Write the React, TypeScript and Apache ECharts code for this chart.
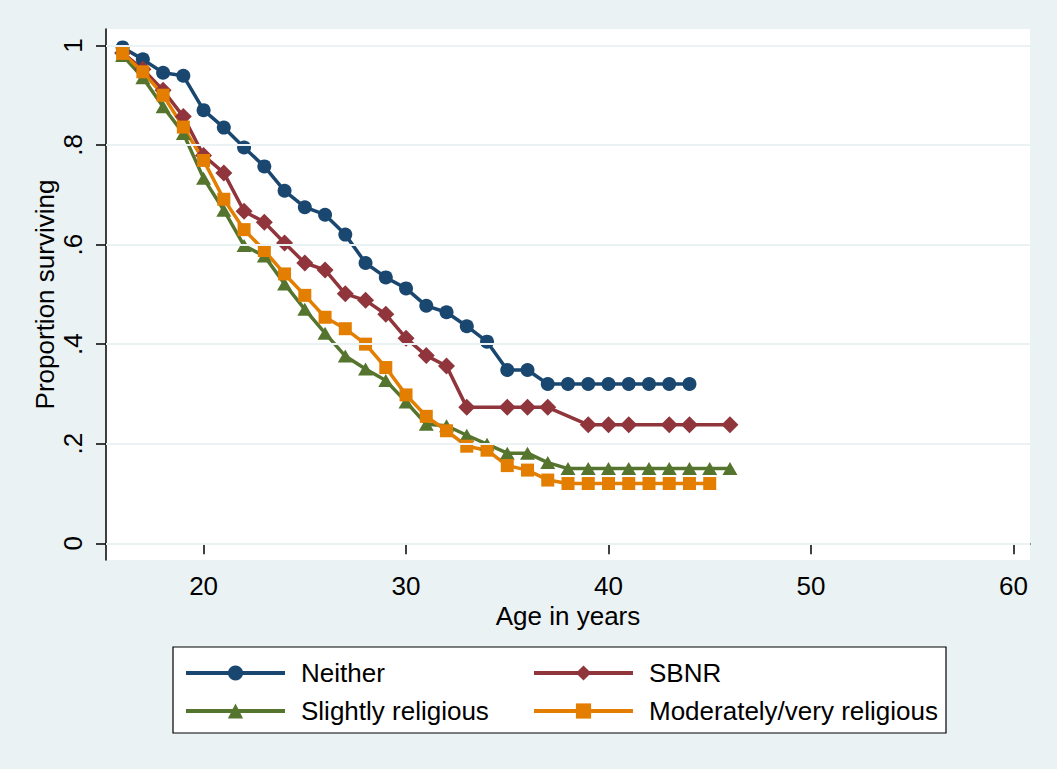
import React, { useEffect, useRef } from "react";
import * as echarts from "echarts";

const neitherAges = [16,17,18,19,20,21,22,23,24,25,26,27,28,29,30,31,32,33,34,35,36,37,38,39,40,41,42,43,44];
const neitherVals = [0.996,0.972,0.945,0.939,0.870,0.835,0.795,0.757,0.708,0.675,0.660,0.620,0.563,0.534,0.512,0.477,0.464,0.436,0.405,0.348,0.348,0.320,0.320,0.320,0.320,0.320,0.320,0.320,0.320];

const sbnrAges = [16,17,18,19,20,21,22,23,24,25,26,27,28,29,30,31,32,33,35,36,37,39,40,41,43,44,46];
const sbnrVals = [0.985,0.952,0.910,0.857,0.779,0.744,0.667,0.645,0.603,0.563,0.549,0.501,0.488,0.460,0.412,0.377,0.356,0.273,0.273,0.273,0.273,0.238,0.238,0.238,0.238,0.238,0.238];

const slightAges = [16,17,18,19,20,21,22,23,24,25,26,27,28,29,30,31,32,33,34,35,36,37,38,39,40,41,42,43,44,45,46];
const slightVals = [0.980,0.935,0.877,0.823,0.733,0.669,0.598,0.577,0.521,0.470,0.422,0.376,0.350,0.327,0.284,0.239,0.236,0.217,0.199,0.181,0.181,0.162,0.150,0.150,0.150,0.150,0.150,0.150,0.150,0.150,0.150];

const modAges = [16,17,18,19,20,21,22,23,24,25,26,27,28,29,30,31,32,33,34,35,36,37,38,39,40,41,42,43,44,45];
const modVals = [0.984,0.947,0.900,0.836,0.769,0.691,0.630,0.588,0.541,0.498,0.454,0.431,0.400,0.353,0.298,0.255,0.226,0.195,0.187,0.156,0.147,0.127,0.120,0.120,0.120,0.120,0.120,0.120,0.120,0.120];

const xTicks = [20, 30, 40, 50, 60];
const yTicks = [0, 0.2, 0.4, 0.6, 0.8, 1];
const yTickLabels = ["0", ".2", ".4", ".6", ".8", "1"];

const seriesNames = ["Neither", "SBNR", "Slightly religious", "Moderately/very religious"];

const FONT = "Liberation Sans, Arial, sans-serif";

function zip(a: number[], b: number[]) {
  return a.map((x, i) => [x, b[i]]);
}

export default function App() {
  const ref = useRef<HTMLDivElement>(null);
  useEffect(() => {
    document.body.style.margin = "0";
    const chart = echarts.init(ref.current!, null, { renderer: "svg" });
    const mk = (name: string, data: number[][], color: string, symbol: string, size: any) => ({
      name,
      type: "line",
      data,
      z: 3,
      symbol,
      symbolSize: size,
      showSymbol: true,
      lineStyle: { color, width: 3.5 },
      itemStyle: { color, borderWidth: 0 },
      emphasis: { disabled: true },
    });
    const legendCommon = {
      orient: "vertical",
      top: 660,
      padding: 0,
      itemWidth: 99,
      itemHeight: 19,
      itemGap: 12,
      lineStyle: { width: 4 },
      textStyle: { fontSize: 26, color: "#000", lineHeight: 26, padding: [0, 0, 0, 11], fontFamily: FONT },
    };
    chart.setOption({
      animation: false,
      backgroundColor: "#eaf2f3",
      textStyle: { fontFamily: FONT },
      grid: {
        left: 106,
        top: 29,
        right: 27,
        bottom: 209,
        show: true,
        backgroundColor: "#ffffff",
        borderWidth: 0,
      },
      xAxis: {
        type: "value",
        min: 15.18,
        max: 60.82,
        name: "Age in years",
        nameLocation: "middle",
        nameGap: 43,
        nameMoveOverlap: false,
        nameTextStyle: { fontSize: 26, color: "#000", fontFamily: FONT },
        axisLine: { show: true, lineStyle: { color: "#000", width: 1.5 } },
        axisTick: { show: true, length: 11, customValues: xTicks, lineStyle: { color: "#000", width: 1.5 } },
        axisLabel: { customValues: xTicks, fontSize: 26, color: "#000", margin: 13, fontFamily: FONT },
        splitLine: { show: false },
      },
      yAxis: {
        type: "value",
        min: -0.0336,
        max: 1.033,
        name: "Proportion surviving",
        nameLocation: "middle",
        nameGap: 48,
        nameMoveOverlap: false,
        nameTextStyle: { fontSize: 26, color: "#000", fontFamily: FONT },
        axisLine: { show: true, lineStyle: { color: "#000", width: 1.5 } },
        axisTick: { show: true, length: 10, customValues: yTicks, lineStyle: { color: "#000", width: 1.5 } },
        axisLabel: {
          customValues: yTicks,
          rotate: 90,
          fontSize: 26,
          color: "#000",
          margin: 20,
          fontFamily: FONT,
          formatter: (v: number) => {
            const i = yTicks.findIndex((t) => Math.abs(t - v) < 1e-6);
            return i >= 0 ? yTickLabels[i] : "";
          },
        },
        splitLine: { show: false },
      },
      legend: [
        { ...legendCommon, left: 184, data: [seriesNames[0], seriesNames[2]] },
        { ...legendCommon, left: 532, data: [seriesNames[1], seriesNames[3]] },
      ],
      graphic: [
        {
          type: "rect",
          z: 0,
          shape: { x: 173, y: 647, width: 773, height: 86 },
          style: { fill: "#ffffff", stroke: "#000", lineWidth: 1.2 },
          silent: true,
        },
      ],
      series: [
        {
          type: "line",
          data: [],
          z: 1,
          silent: true,
          markLine: {
            silent: true,
            symbol: "none",
            label: { show: false },
            lineStyle: { color: "#eaf2f3", width: 2, type: "solid" },
            data: yTicks.map((t) => ({ yAxis: t })),
          },
        },
        mk(seriesNames[0], zip(neitherAges, neitherVals), "#1a476f", "circle", 14),
        mk(seriesNames[1], zip(sbnrAges, sbnrVals), "#90353b", "diamond", 17),
        mk(seriesNames[2], zip(slightAges, slightVals), "#55752f", "triangle", [15, 13]),
        mk(seriesNames[3], zip(modAges, modVals), "#e37e00", "rect", 13),
      ],
    });
    return () => chart.dispose();
  }, []);
  return <div ref={ref} style={{ width: 1057, height: 769 }} />;
}
